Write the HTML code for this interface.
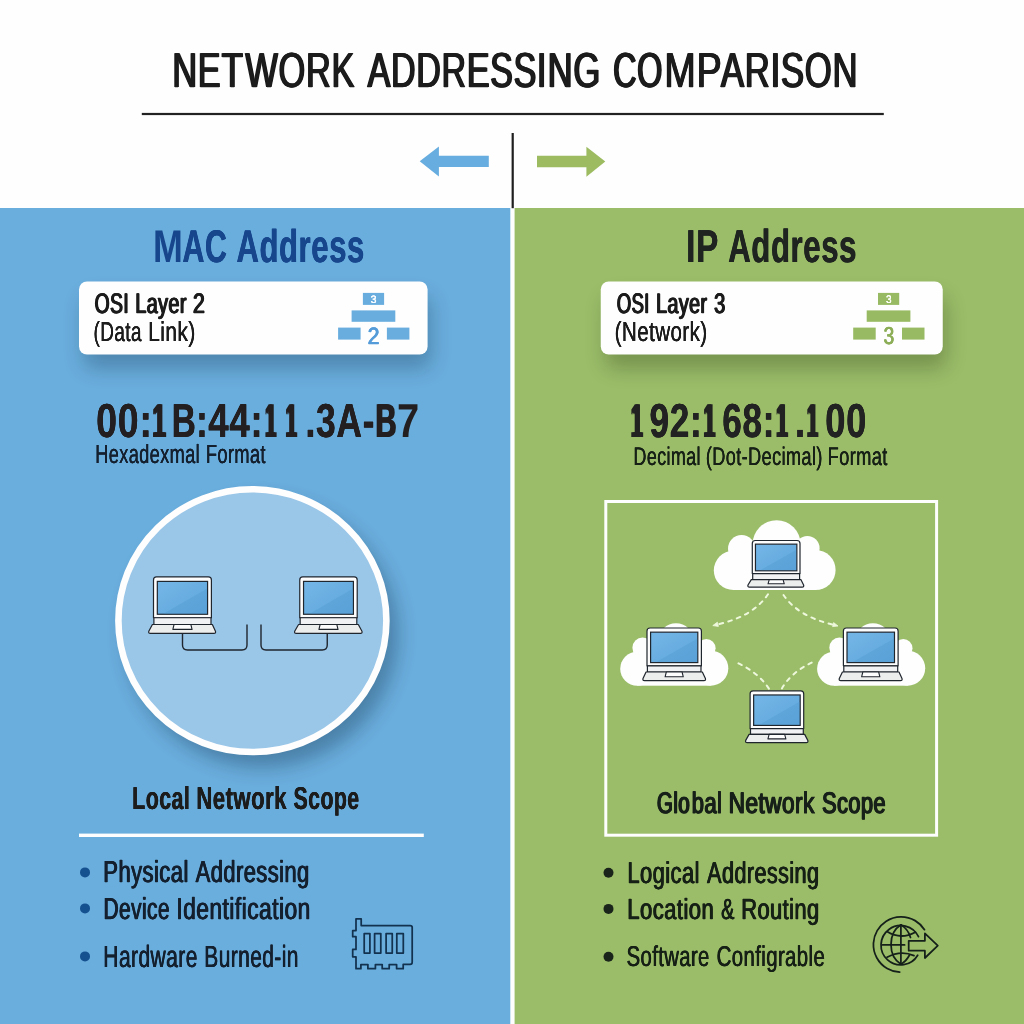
<!DOCTYPE html>
<html lang="en">
<head>
<meta charset="utf-8">
<title>Network Addressing Comparison</title>
<style>
html,body{margin:0;padding:0;background:#fefefe;}
#stage{position:relative;width:1024px;height:1024px;overflow:hidden;will-change:transform;}
#stage svg{position:absolute;left:0;top:0;display:block;}
.w{position:absolute;left:0;top:0;display:block;line-height:1;white-space:pre;transform-origin:0 0;font-family:"Liberation Sans",sans-serif;font-weight:400;font-kerning:none;text-rendering:geometricPrecision;font-variant-ligatures:none;letter-spacing:0}
</style>
</head>
<body>
<div id="stage">
<svg width="1024" height="1024" viewBox="0 0 1024 1024">
<defs>
<linearGradient id="scr" x1="0" y1="0" x2="1" y2="1"><stop offset="0" stop-color="#74b6e6"/><stop offset="1" stop-color="#5fa6dc"/></linearGradient>
<filter id="shB" x="-20%" y="-70%" width="140%" height="240%"><feGaussianBlur stdDeviation="10"/></filter>
<filter id="shC" x="-25%" y="-25%" width="150%" height="150%"><feGaussianBlur stdDeviation="9.5"/></filter>
</defs>
<rect width="1024" height="1024" fill="#fefefe"/>
<rect x="0" y="208" width="510.3" height="816" fill="#6aaedd"/>
<rect x="514.6" y="208" width="509.4" height="816" fill="#9bbd69"/>
<rect x="141.8" y="112.9" width="742" height="2.2" fill="#222"/>
<rect x="511.6" y="133" width="2.2" height="75.2" fill="#1f1f1f"/>
<path d="M419.7 161.3 L438.9 146.4 V155.7 H488.8 V167.1 H438.9 V176.4 Z" fill="#68addf"/>
<path d="M605.3 161.6 L586.4 146.8 V155.8 H537 V167.3 H586.4 V176.8 Z" fill="#9dbc62"/>
<rect x="83" y="296" width="348.6" height="73" rx="10" fill="#04182e" opacity="0.25" filter="url(#shB)"/><rect x="79" y="281.5" width="348.6" height="73.1" rx="8" fill="#fefefe"/>
<rect x="604.75" y="296" width="342" height="73" rx="10" fill="#0e1c04" opacity="0.25" filter="url(#shB)"/><rect x="600.75" y="281.5" width="342" height="73.1" rx="8" fill="#fefefe"/>
<g fill="#69addf"><rect x="362.9" y="292.9" width="21.2" height="12"/><rect x="351.6" y="310.4" width="43.7" height="11.4"/><rect x="338.1" y="327.6" width="22.5" height="12"/><rect x="386.9" y="327.6" width="22.5" height="12"/></g>
<g fill="#98ba62"><rect x="878" y="292.9" width="21.2" height="12"/><rect x="866.7" y="310.4" width="43.7" height="11.4"/><rect x="853.2" y="327.6" width="22.5" height="12"/><rect x="902" y="327.6" width="22.5" height="12"/></g>
<ellipse cx="262" cy="634" rx="136" ry="133.5" fill="#04182e" opacity="0.3" filter="url(#shC)"/>
<ellipse cx="252.4" cy="620.65" rx="134" ry="131.4" fill="#9ac6e8" stroke="#fefefe" stroke-width="6.6"/>
<path d="M182.5 633.4 V645 Q182.5 650 187.5 650 H242 Q247 650 247 645 V624.4" fill="none" stroke="#20262e" stroke-width="1.4"/>
<path d="M261 624.4 V645 Q261 650 266 650 H322.25 Q327.25 650 327.25 645 V633.4" fill="none" stroke="#20262e" stroke-width="1.4"/>
<g><path d="M153.5 617.75 V579.9 Q153.5 576.9 156.5 576.9 H208.4 Q211.4 576.9 211.4 579.9 V617.75 Z" fill="#fdfdfd" stroke="#20262e" stroke-width="1.2" stroke-linejoin="round"/><rect x="157.32" y="581.39" width="50.26" height="32.88" fill="url(#scr)" stroke="#20262e" stroke-width="1.2"/><path d="M163.35 613.68 L206.98 588.63 V613.68 Z" fill="#4d97cf" opacity="0.35"/><rect x="153.9" y="617.75" width="57.1" height="6.75" fill="#f1f2f3" stroke="#20262e" stroke-width="1.2" stroke-linejoin="round"/><path d="M152.4 624.5 H212.36 L215.45 631.2 Q216.05 633.4 213.95 633.4 H150.3 Q148.2 633.4 148.8 631.2 Z" fill="#eceded" stroke="#20262e" stroke-width="1.2" stroke-linejoin="round"/><path d="M174.05 624.5 L172.85 629.39 H192.05 L190.85 624.5 Z" fill="#fdfdfd" stroke="#20262e" stroke-width="1.1" stroke-linejoin="round"/></g>
<g><path d="M299.75 617.75 V579.9 Q299.75 576.9 302.75 576.9 H354.2 Q357.2 576.9 357.2 579.9 V617.75 Z" fill="#fdfdfd" stroke="#20262e" stroke-width="1.2" stroke-linejoin="round"/><rect x="303.54" y="581.39" width="49.87" height="32.88" fill="url(#scr)" stroke="#20262e" stroke-width="1.2"/><path d="M309.53 613.68 L352.81 588.63 V613.68 Z" fill="#4d97cf" opacity="0.35"/><rect x="300.15" y="617.75" width="56.65" height="6.75" fill="#f1f2f3" stroke="#20262e" stroke-width="1.2" stroke-linejoin="round"/><path d="M298.57 624.5 H358.31 L361.95 631.2 Q362.55 633.4 360.45 633.4 H296.2 Q294.1 633.4 294.7 631.2 Z" fill="#eceded" stroke="#20262e" stroke-width="1.2" stroke-linejoin="round"/><path d="M320.14 624.5 L318.94 629.39 H338.01 L336.81 624.5 Z" fill="#fdfdfd" stroke="#20262e" stroke-width="1.1" stroke-linejoin="round"/></g>
<rect x="605.8" y="501.5" width="330.8" height="333.7" fill="none" stroke="#fefefe" stroke-width="3"/>
<g fill="#fdfefd"><circle cx="776.6" cy="544.2" r="24"/><circle cx="741.6" cy="548.6" r="13.6"/><circle cx="807.4" cy="548.2" r="12.2"/><circle cx="733.4" cy="570.4" r="19.6"/><circle cx="815.6" cy="570" r="20"/><rect x="733.4" y="560" width="82.2" height="30"/><rect x="745" y="545" width="62" height="20"/></g>
<g fill="#fdfefd"><circle cx="676" cy="640.7" r="17.5"/><circle cx="642.6" cy="647.8" r="10.2"/><circle cx="706.4" cy="648.3" r="9.2"/><circle cx="637.2" cy="668.7" r="17"/><circle cx="710.8" cy="668.2" r="17.5"/><rect x="637.2" y="660" width="73.6" height="25.7"/><rect x="645" y="646" width="60" height="16"/></g>
<g fill="#fdfefd"><circle cx="872.9" cy="640.7" r="17.5"/><circle cx="839.5" cy="647.8" r="10.2"/><circle cx="903.3" cy="648.3" r="9.2"/><circle cx="834.1" cy="668.7" r="17"/><circle cx="907.7" cy="668.2" r="17.5"/><rect x="834.1" y="660" width="73.6" height="25.7"/><rect x="841.9" y="646" width="60" height="16"/></g>
<path d="M768 594.3 Q753 616.5 717.5 624.4" fill="none" stroke="#eef8dc" stroke-width="2" stroke-dasharray="3.7 5.4" stroke-linecap="round"/>
<path d="M783.5 595 Q798 616.5 833.5 624.8" fill="none" stroke="#eef8dc" stroke-width="2" stroke-dasharray="3.7 5.4" stroke-linecap="round"/>
<path d="M768.9 688.6 Q757.7 671.6 734.2 661.4" fill="none" stroke="#eef8dc" stroke-width="2" stroke-dasharray="3.7 5.4" stroke-linecap="round"/>
<path d="M781.9 688.4 Q792 671 815.1 661.1" fill="none" stroke="#eef8dc" stroke-width="2" stroke-dasharray="3.7 5.4" stroke-linecap="round"/>
<path d="M712.8 625.6 L717.4 622.2 L718.4 626.4 Z" fill="#eef8dc" stroke="#eef8dc" stroke-width="0.8" stroke-linejoin="round"/>
<path d="M838.0 626.0 L832.6 626.6 L833.6 622.6 Z" fill="#eef8dc" stroke="#eef8dc" stroke-width="0.8" stroke-linejoin="round"/>
<g><path d="M752.3 573.6 V543.5 Q752.3 540.5 755.3 540.5 H797 Q800 540.5 800 543.5 V573.6 Z" fill="#fdfdfd" stroke="#20262e" stroke-width="1.2" stroke-linejoin="round"/><rect x="755.45" y="544.14" width="41.4" height="26.65" fill="url(#scr)" stroke="#20262e" stroke-width="1.2"/><path d="M760.42 570.19 L796.25 550 V570.19 Z" fill="#4d97cf" opacity="0.35"/><rect x="752.7" y="573.6" width="46.9" height="6" fill="#f1f2f3" stroke="#20262e" stroke-width="1.2" stroke-linejoin="round"/><path d="M751.29 579.6 H800.86 L803.6 585 Q804.2 587.2 802.1 587.2 H749.5 Q747.4 587.2 748 585 Z" fill="#eceded" stroke="#20262e" stroke-width="1.2" stroke-linejoin="round"/><path d="M769.23 579.6 L768.03 583.78 H784.27 L783.07 579.6 Z" fill="#fdfdfd" stroke="#20262e" stroke-width="1.1" stroke-linejoin="round"/></g>
<g><path d="M647 665.8 V631 Q647 628 650 628 H698.4 Q701.4 628 701.4 631 V665.8 Z" fill="#fdfdfd" stroke="#20262e" stroke-width="1.2" stroke-linejoin="round"/><rect x="650.59" y="632.16" width="47.22" height="30.43" fill="url(#scr)" stroke="#20262e" stroke-width="1.2"/><path d="M656.26 661.99 L697.21 638.85 V661.99 Z" fill="#4d97cf" opacity="0.35"/><rect x="647.4" y="665.8" width="53.6" height="6.2" fill="#f1f2f3" stroke="#20262e" stroke-width="1.2" stroke-linejoin="round"/><path d="M646.05 672 H702.35 L705.4 678.5 Q706 680.7 703.9 680.7 H644.5 Q642.4 680.7 643 678.5 Z" fill="#eceded" stroke="#20262e" stroke-width="1.2" stroke-linejoin="round"/><path d="M666.31 672 L665.11 676.79 H683.29 L682.09 672 Z" fill="#fdfdfd" stroke="#20262e" stroke-width="1.1" stroke-linejoin="round"/></g>
<g><path d="M843.4 665.8 V631 Q843.4 628 846.4 628 H895.1 Q898.1 628 898.1 631 V665.8 Z" fill="#fdfdfd" stroke="#20262e" stroke-width="1.2" stroke-linejoin="round"/><rect x="847.01" y="632.16" width="47.48" height="30.43" fill="url(#scr)" stroke="#20262e" stroke-width="1.2"/><path d="M852.71 661.99 L893.89 638.85 V661.99 Z" fill="#4d97cf" opacity="0.35"/><rect x="843.8" y="665.8" width="53.9" height="6.2" fill="#f1f2f3" stroke="#20262e" stroke-width="1.2" stroke-linejoin="round"/><path d="M842.43 672 H899.02 L902 678.5 Q902.6 680.7 900.5 680.7 H840.8 Q838.7 680.7 839.3 678.5 Z" fill="#eceded" stroke="#20262e" stroke-width="1.2" stroke-linejoin="round"/><path d="M862.82 672 L861.62 676.79 H879.88 L878.68 672 Z" fill="#fdfdfd" stroke="#20262e" stroke-width="1.1" stroke-linejoin="round"/></g>
<g><path d="M750.1 728.6 V693.8 Q750.1 690.8 753.1 690.8 H800.7 Q803.7 690.8 803.7 693.8 V728.6 Z" fill="#fdfdfd" stroke="#20262e" stroke-width="1.2" stroke-linejoin="round"/><rect x="753.64" y="694.96" width="46.52" height="30.43" fill="url(#scr)" stroke="#20262e" stroke-width="1.2"/><path d="M759.22 724.79 L799.56 701.65 V724.79 Z" fill="#4d97cf" opacity="0.35"/><rect x="750.5" y="728.6" width="52.8" height="5.8" fill="#f1f2f3" stroke="#20262e" stroke-width="1.2" stroke-linejoin="round"/><path d="M749.07 734.4 H804.67 L807.8 740.4 Q808.4 742.6 806.3 742.6 H747.2 Q745.1 742.6 745.7 740.4 Z" fill="#eceded" stroke="#20262e" stroke-width="1.2" stroke-linejoin="round"/><path d="M769.13 734.4 L767.93 738.91 H785.87 L784.67 734.4 Z" fill="#fdfdfd" stroke="#20262e" stroke-width="1.1" stroke-linejoin="round"/></g>
<rect x="79" y="833.6" width="344.8" height="3.4" fill="#fefefe"/>
<g fill="#15508f"><circle cx="85" cy="872.4" r="5"/><circle cx="85" cy="908.4" r="5"/><circle cx="85" cy="956.4" r="5"/></g>
<g fill="#1a241a"><circle cx="608.5" cy="872.8" r="5"/><circle cx="608.5" cy="908.9" r="5"/><circle cx="608.5" cy="956.75" r="5"/></g>
<g fill="none" stroke="#13324f" stroke-width="1.75" stroke-linejoin="round">
<path d="M356 930.6 V918.8 H361.2 V925.6 H410.2 Q412.2 925.6 412.2 927.6 V962.3 Q412.2 964.3 410.2 964.3 H403.2 V968.7 H396.6 V964.6 H389.2 V968.7 H382.2 V964.6 H375.4 V968.7 H367.9 V964.6 H360.9 V968.7 H356 V956.8 H352.7 V949.4 H356 V936.7 H352.7 V930.6 Z"/>
<rect x="364.2" y="933.6" width="5.7" height="19.4"/>
<rect x="374.6" y="933.6" width="6.2" height="19.4"/>
<rect x="386.1" y="933.6" width="6.15" height="19.4"/>
<rect x="396.8" y="933.6" width="6.5" height="19.4"/>
</g>
<g fill="none" stroke="#15201a" stroke-width="1.75" stroke-linecap="round" stroke-linejoin="round">
<path d="M924.5 929.7 A27.7 27.7 0 1 0 899.7 972.2"/>
<path d="M918.5 936.7 A19.7 19.7 0 1 0 917.7 955.2"/>
<path d="M900.9 924.8 V964.2"/>
<path d="M882.5 944.9 H904.6"/>
<path d="M900.9 924.8 Q891 931 891 944.5 Q891 958 900.9 964.2"/>
<path d="M900.9 924.8 Q908 929 910.5 937.5"/>
<path d="M900.9 964.2 Q906.5 961 909.5 955"/>
<path d="M887.4 931.8 Q900.9 940 915.3 932.2"/>
<path d="M887 957.2 Q900.9 949.8 914 955.6"/>
<path d="M908.7 940.8 H924.9 V933.4 L937.8 945.7 L924.9 958 V950.7 H908.7 Z" fill="#9bbd69"/>
</g>
</svg>
<div class="ln title"><span class="w" style="font-size:49.2px;transform:translate(172.32px,46px) scaleX(0.6959);color:#1c1c1c;letter-spacing:0.02em;-webkit-text-stroke:0.5px;text-shadow:1.21px 0 0,-1.21px 0 0">NE</span><span class="w" style="font-size:49.2px;transform:translate(221.66px,46px) scaleX(0.7096);color:#1c1c1c;letter-spacing:0.02em;-webkit-text-stroke:0.5px;text-shadow:1.14px 0 0,-1.14px 0 0">T</span><span class="w" style="font-size:49.2px;transform:translate(245.4px,46px) scaleX(0.699);color:#1c1c1c;letter-spacing:0.02em;-webkit-text-stroke:0.5px;text-shadow:1.19px 0 0,-1.19px 0 0">WORK</span> <span class="w" style="font-size:49.2px;transform:translate(367.59px,46px) scaleX(0.6922);color:#1c1c1c;letter-spacing:0.02em;-webkit-text-stroke:0.5px;text-shadow:1.23px 0 0,-1.23px 0 0">ADDRESSI</span><span class="w" style="font-size:49.2px;transform:translate(547.68px,46px) scaleX(0.7032);color:#1c1c1c;letter-spacing:0.02em;-webkit-text-stroke:0.5px;text-shadow:1.17px 0 0,-1.17px 0 0">NG</span> <span class="w" style="font-size:49.2px;transform:translate(613.09px,46px) scaleX(0.6602);color:#1c1c1c;letter-spacing:0.02em;-webkit-text-stroke:0.5px;text-shadow:1.4px 0 0,-1.4px 0 0">CO</span><span class="w" style="font-size:49.2px;transform:translate(664.43px,46px) scaleX(0.7658);color:#1c1c1c;letter-spacing:0.02em;-webkit-text-stroke:0.5px;text-shadow:0.88px 0 0,-0.88px 0 0">MP</span><span class="w" style="font-size:49.2px;transform:translate(720.93px,46px) scaleX(0.7062);color:#1c1c1c;letter-spacing:0.02em;-webkit-text-stroke:0.5px;text-shadow:1.16px 0 0,-1.16px 0 0">ARISON</span></div>
<div class="ln head"><span class="w" style="font-size:45.93px;transform:translate(152.96px,224px) scaleX(0.7793);font-weight:700;color:#17468d;letter-spacing:0.02em">M</span><span class="w" style="font-size:45.93px;transform:translate(182.45px,224px) scaleX(0.6605);font-weight:700;color:#17468d;letter-spacing:0.02em;text-shadow:0.48px 0 0,-0.48px 0 0">AC</span> <span class="w" style="font-size:45.93px;transform:translate(236.45px,224px) scaleX(0.6754);font-weight:700;color:#17468d;letter-spacing:0.02em;text-shadow:0.39px 0 0,-0.39px 0 0">Address</span></div>
<div class="ln head"><span class="w" style="font-size:46.08px;transform:translate(686.22px,223px) scaleX(0.722);font-weight:700;color:#1f2421;letter-spacing:0.02em;text-shadow:0.15px 0 0,-0.15px 0 0">IP</span> <span class="w" style="font-size:46.08px;transform:translate(728.18px,223px) scaleX(0.6753);font-weight:700;color:#1f2421;letter-spacing:0.02em;text-shadow:0.39px 0 0,-0.39px 0 0">Address</span></div>
<div class="ln osi"><span class="w" style="font-size:28.27px;transform:translate(94.72px,289px) scaleX(0.6799);color:#1c1c1c;letter-spacing:0.02em;-webkit-text-stroke:0.7px;text-shadow:0.92px 0 0,-0.92px 0 0">OSI</span> <span class="w" style="font-size:28.27px;transform:translate(135.27px,289px) scaleX(0.701);color:#1c1c1c;letter-spacing:0.02em;-webkit-text-stroke:0.7px;text-shadow:0.89px 0 0,-0.89px 0 0">Layer</span> <span class="w" style="font-size:28.27px;transform:translate(192.96px,289px) scaleX(0.7605);color:#1c1c1c;letter-spacing:0.02em;-webkit-text-stroke:0.7px;text-shadow:0.82px 0 0,-0.82px 0 0">2</span></div>
<div class="ln sub"><span class="w" style="font-size:27.47px;transform:translate(93.5px,318px) scaleX(0.6918);color:#1c1c1c;letter-spacing:0.02em;text-shadow:0.11px 0 0,-0.11px 0 0">(Data</span> <span class="w" style="font-size:27.47px;transform:translate(148.19px,318px) scaleX(0.7639);color:#1c1c1c;letter-spacing:0.02em;text-shadow:0.1px 0 0,-0.1px 0 0">Link)</span></div>
<div class="ln osi"><span class="w" style="font-size:28.13px;transform:translate(616.84px,290px) scaleX(0.6561);color:#1c1c1c;letter-spacing:0.02em;-webkit-text-stroke:0.7px;text-shadow:0.95px 0 0,-0.95px 0 0">OSI</span> <span class="w" style="font-size:28.13px;transform:translate(656.01px,290px) scaleX(0.702);color:#1c1c1c;letter-spacing:0.02em;-webkit-text-stroke:0.7px;text-shadow:0.89px 0 0,-0.89px 0 0">Layer</span> <span class="w" style="font-size:28.13px;transform:translate(714.09px,290px) scaleX(0.7157);color:#1c1c1c;letter-spacing:0.02em;-webkit-text-stroke:0.7px;text-shadow:0.87px 0 0,-0.87px 0 0">3</span></div>
<div class="ln sub"><span class="w" style="font-size:27.76px;transform:translate(614.67px,318px) scaleX(0.7417);color:#1c1c1c;letter-spacing:0.02em;text-shadow:0.1px 0 0,-0.1px 0 0">(Network)</span></div>
<div class="ln ico"><span class="w" style="font-size:10.9px;transform:translate(370.7px,295px) scaleX(0.9576);color:#fbfdff;letter-spacing:0.02em;text-shadow:0.13px 0 0,-0.13px 0 0">3</span></div>
<div class="ln ico"><span class="w" style="font-size:23.62px;transform:translate(367.81px,326px) scaleX(0.8894);color:#559cd9;letter-spacing:0.02em;-webkit-text-stroke:0.4px;text-shadow:0.51px 0 0,-0.51px 0 0">2</span></div>
<div class="ln ico"><span class="w" style="font-size:11.05px;transform:translate(886.05px,295px) scaleX(0.8845);color:#fcfff8;letter-spacing:0.02em;text-shadow:0.14px 0 0,-0.14px 0 0">3</span></div>
<div class="ln ico"><span class="w" style="font-size:24.49px;transform:translate(883.61px,325px) scaleX(0.7809);color:#8dae58;letter-spacing:0.02em;-webkit-text-stroke:0.4px;text-shadow:0.58px 0 0,-0.58px 0 0">3</span></div>
<div class="ln addr"><span class="w" style="font-size:47.68px;transform:translate(96.16px,398px) scaleX(0.7873);font-weight:700;color:#231f20;letter-spacing:0.02em;text-shadow:0.06px 0 0,-0.06px 0 0">00:</span><span class="w" style="font-size:47.68px;transform:translate(152.48px,398px) scaleX(0.5034);font-weight:700;color:#231f20;letter-spacing:0.02em;text-shadow:2.03px 0 0,-2.03px 0 0">1</span><span class="w" style="font-size:47.68px;transform:translate(171.76px,398px) scaleX(0.6982);font-weight:700;color:#231f20;letter-spacing:0.02em;text-shadow:0.51px 0 0,-0.51px 0 0">B:</span><span class="w" style="font-size:47.68px;transform:translate(208.25px,398px) scaleX(0.7687);font-weight:700;color:#231f20;letter-spacing:0.02em;text-shadow:0.14px 0 0,-0.14px 0 0">44:</span><span class="w" style="font-size:47.68px;transform:translate(265.62px,398px) scaleX(0.3826);font-weight:700;color:#231f20;letter-spacing:0.02em;text-shadow:3.4px 0 0,-3.4px 0 0">1</span><span class="w" style="font-size:47.68px;transform:translate(286.04px,398px) scaleX(0.3966);font-weight:700;color:#231f20;letter-spacing:0.02em;text-shadow:3.28px 0 0,-3.28px 0 0">1</span><span class="w" style="font-size:47.68px;transform:translate(305.5px,398px) scaleX(0.7417);font-weight:700;color:#231f20;letter-spacing:0.02em;text-shadow:0.27px 0 0,-0.27px 0 0">.3A-</span><span class="w" style="font-size:47.68px;transform:translate(375.47px,398px) scaleX(0.6086);font-weight:700;color:#231f20;letter-spacing:0.02em;text-shadow:1.09px 0 0,-1.09px 0 0">B</span><span class="w" style="font-size:47.68px;transform:translate(396.89px,398px) scaleX(0.8381);font-weight:700;color:#231f20;letter-spacing:0.02em">7</span></div>
<div class="ln fmt"><span class="w" style="font-size:26.31px;transform:translate(95.26px,441px) scaleX(0.6919);color:#15202f;letter-spacing:0.02em;text-shadow:0.11px 0 0,-0.11px 0 0">Hexadexmal</span> <span class="w" style="font-size:26.31px;transform:translate(205.94px,441px) scaleX(0.693);color:#15202f;letter-spacing:0.02em;text-shadow:0.11px 0 0,-0.11px 0 0">Format</span></div>
<div class="ln addr"><span class="w" style="font-size:47.68px;transform:translate(631.18px,398px) scaleX(0.4225);font-weight:700;color:#222222;letter-spacing:0.02em;text-shadow:3.08px 0 0,-3.08px 0 0">1</span><span class="w" style="font-size:47.68px;transform:translate(649.49px,398px) scaleX(0.7377);font-weight:700;color:#222222;letter-spacing:0.02em;text-shadow:0.3px 0 0,-0.3px 0 0">92:</span><span class="w" style="font-size:47.68px;transform:translate(704.08px,398px) scaleX(0.4015);font-weight:700;color:#222222;letter-spacing:0.02em;text-shadow:3.24px 0 0,-3.24px 0 0">1</span><span class="w" style="font-size:47.68px;transform:translate(722.37px,398px) scaleX(0.7341);font-weight:700;color:#222222;letter-spacing:0.02em;text-shadow:0.32px 0 0,-0.32px 0 0">68:</span><span class="w" style="font-size:47.68px;transform:translate(776.49px,398px) scaleX(0.4131);font-weight:700;color:#222222;letter-spacing:0.02em;text-shadow:3.15px 0 0,-3.15px 0 0">1</span><span class="w" style="font-size:47.68px;transform:translate(794.13px,398px) scaleX(0.8725);font-weight:700;color:#222222;letter-spacing:0.02em">.</span><span class="w" style="font-size:47.68px;transform:translate(807.2px,398px) scaleX(0.3922);font-weight:700;color:#222222;letter-spacing:0.02em;text-shadow:3.31px 0 0,-3.31px 0 0">1</span><span class="w" style="font-size:47.68px;transform:translate(825.24px,398px) scaleX(0.7612);font-weight:700;color:#222222;letter-spacing:0.02em;text-shadow:0.18px 0 0,-0.18px 0 0">00</span></div>
<div class="ln fmt"><span class="w" style="font-size:25.58px;transform:translate(633.47px,445px) scaleX(0.7022);color:#172016;letter-spacing:0.02em;text-shadow:0.14px 0 0,-0.14px 0 0">Decimal</span> <span class="w" style="font-size:25.58px;transform:translate(705.85px,445px) scaleX(0.7112);color:#172016;letter-spacing:0.02em;text-shadow:0.14px 0 0,-0.14px 0 0">(Dot-Decimal)</span> <span class="w" style="font-size:25.58px;transform:translate(827.62px,445px) scaleX(0.7146);color:#172016;letter-spacing:0.02em;text-shadow:0.14px 0 0,-0.14px 0 0">Format</span></div>
<div class="ln scope"><span class="w" style="font-size:31.69px;transform:translate(132.16px,783px) scaleX(0.6757);font-weight:700;color:#1c1c1c;letter-spacing:0.02em;text-shadow:0.31px 0 0,-0.31px 0 0">Local</span> <span class="w" style="font-size:31.69px;transform:translate(196.29px,783px) scaleX(0.7001);font-weight:700;color:#1c1c1c;letter-spacing:0.02em;text-shadow:0.22px 0 0,-0.22px 0 0">Network</span> <span class="w" style="font-size:31.69px;transform:translate(293.48px,783px) scaleX(0.6732);font-weight:700;color:#1c1c1c;letter-spacing:0.02em;text-shadow:0.32px 0 0,-0.32px 0 0">Scope</span></div>
<div class="ln scope"><span class="w" style="font-size:29.71px;transform:translate(656.9px,789px) scaleX(0.6927);color:#18201a;letter-spacing:0.02em;-webkit-text-stroke:1.15px;text-shadow:0.98px 0 0,-0.98px 0 0">Glo</span><span class="w" style="font-size:29.71px;transform:translate(691.75px,789px) scaleX(0.7378);color:#18201a;letter-spacing:0.02em;-webkit-text-stroke:1.15px;text-shadow:0.84px 0 0,-0.84px 0 0">bal</span> <span class="w" style="font-size:29.71px;transform:translate(728.63px,789px) scaleX(0.7616);color:#18201a;letter-spacing:0.02em;-webkit-text-stroke:1.15px;text-shadow:0.77px 0 0,-0.77px 0 0">Network</span> <span class="w" style="font-size:29.71px;transform:translate(822.06px,789px) scaleX(0.7333);color:#18201a;letter-spacing:0.02em;-webkit-text-stroke:1.15px;text-shadow:0.85px 0 0,-0.85px 0 0">Scope</span></div>
<div class="ln li"><span class="w" style="font-size:30.38px;transform:translate(103.31px,857px) scaleX(0.7244);color:#15202f;letter-spacing:0.02em;-webkit-text-stroke:0.35px;text-shadow:0.62px 0 0,-0.62px 0 0">Physical</span> <span class="w" style="font-size:30.38px;transform:translate(195.64px,857px) scaleX(0.7215);color:#15202f;letter-spacing:0.02em;-webkit-text-stroke:0.35px;text-shadow:0.62px 0 0,-0.62px 0 0">Addressing</span></div>
<div class="ln li"><span class="w" style="font-size:30.38px;transform:translate(103.53px,894px) scaleX(0.688);color:#15202f;letter-spacing:0.02em;-webkit-text-stroke:0.35px;text-shadow:0.65px 0 0,-0.65px 0 0">Device</span> <span class="w" style="font-size:30.38px;transform:translate(176.36px,894px) scaleX(0.7506);color:#15202f;letter-spacing:0.02em;-webkit-text-stroke:0.35px;text-shadow:0.6px 0 0,-0.6px 0 0">Identification</span></div>
<div class="ln li"><span class="w" style="font-size:30.6px;transform:translate(103.35px,942px) scaleX(0.6865);color:#15202f;letter-spacing:0.02em;-webkit-text-stroke:0.15px;text-shadow:0.4px 0 0,-0.4px 0 0">Hardware</span> <span class="w" style="font-size:30.6px;transform:translate(204.3px,942px) scaleX(0.6842);color:#15202f;letter-spacing:0.02em;-webkit-text-stroke:0.15px;text-shadow:0.4px 0 0,-0.4px 0 0">Burned-in</span></div>
<div class="ln li"><span class="w" style="font-size:30.09px;transform:translate(627.38px,859px) scaleX(0.7289);color:#172016;letter-spacing:0.02em;-webkit-text-stroke:0.35px;text-shadow:0.62px 0 0,-0.62px 0 0">Logical</span> <span class="w" style="font-size:30.09px;transform:translate(707.12px,859px) scaleX(0.7178);color:#172016;letter-spacing:0.02em;-webkit-text-stroke:0.35px;text-shadow:0.63px 0 0,-0.63px 0 0">Addressing</span></div>
<div class="ln li"><span class="w" style="font-size:29.07px;transform:translate(627.28px,896px) scaleX(0.7589);color:#172016;letter-spacing:0.02em;-webkit-text-stroke:0.35px;text-shadow:0.59px 0 0,-0.59px 0 0">Location</span> <span class="w" style="font-size:29.07px;transform:translate(721.14px,896px) scaleX(0.6782);color:#172016;letter-spacing:0.02em;-webkit-text-stroke:0.35px;text-shadow:0.66px 0 0,-0.66px 0 0">&amp;</span> <span class="w" style="font-size:29.07px;transform:translate(741.22px,896px) scaleX(0.7515);color:#172016;letter-spacing:0.02em;-webkit-text-stroke:0.35px;text-shadow:0.6px 0 0,-0.6px 0 0">Routing</span></div>
<div class="ln li"><span class="w" style="font-size:28.56px;transform:translate(626.6px,943px) scaleX(0.7087);color:#172016;letter-spacing:0.02em;-webkit-text-stroke:0.15px;text-shadow:0.39px 0 0,-0.39px 0 0">Software</span> <span class="w" style="font-size:28.56px;transform:translate(716.63px,943px) scaleX(0.713);color:#172016;letter-spacing:0.02em;-webkit-text-stroke:0.15px;text-shadow:0.39px 0 0,-0.39px 0 0">Configrable</span></div>
</div>
</body>
</html>
